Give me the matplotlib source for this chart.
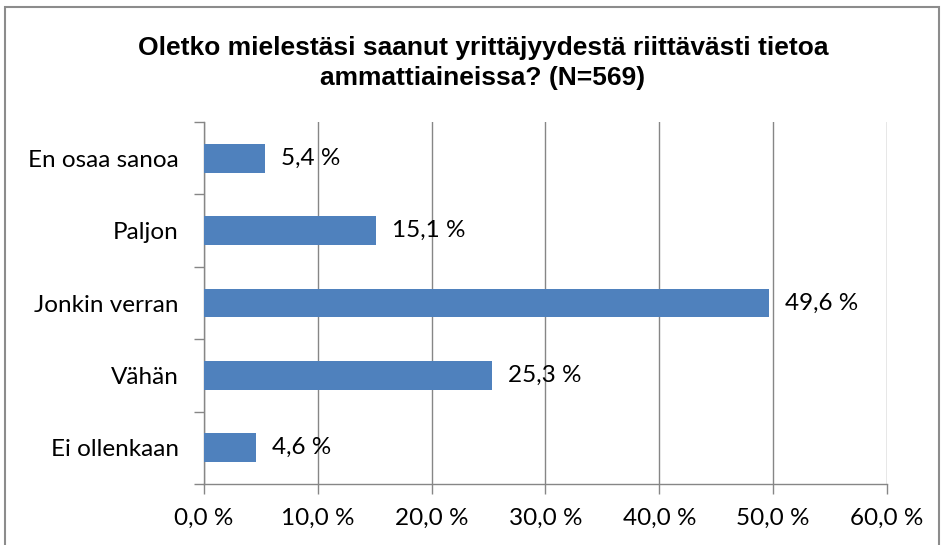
import numpy as np
import matplotlib.pyplot as plt
from matplotlib.patches import Rectangle
from matplotlib.ticker import FixedLocator

categories = ["Ei ollenkaan", "Vähän", "Jonkin verran", "Paljon", "En osaa sanoa"]
values = [4.6, 25.3, 49.6, 15.1, 5.4]
xticks = [0, 10, 20, 30, 40, 50, 60]
title = "Oletko mielestäsi saanut yrittäjyydestä riittävästi tietoa\nammattiaineissa? (N=569)"

def fmt(v):
    return ("%.1f %%" % v).replace(".", ",")

plt.rcParams['font.family'] = ['Lato', 'DejaVu Sans']
fs = 17.5

fig = plt.figure(figsize=(9.45, 5.45), dpi=100)
ax = fig.add_axes([204/945, 1 - 484/545, (887-204)/945, (484-122)/545])

grey = "#868686"
y = np.arange(len(categories))
ax.barh(y, values, height=0.4, color="#4F81BD", zorder=3)
for yi, v in zip(y, values):
    ax.annotate(fmt(v), (v, yi), xytext=(11.5, 0), textcoords="offset points",
                va="center", ha="left", fontsize=fs, zorder=4)

ax.set_xlim(0, 60)
ax.set_ylim(-0.5, len(categories) - 0.5)
ax.set_xticks(xticks)
ax.set_xticklabels([fmt(t) for t in xticks], fontsize=fs)
ax.set_yticks(y)
ax.set_yticklabels(categories, fontsize=fs)
ax.yaxis.set_minor_locator(FixedLocator(np.arange(-0.5, len(categories), 1.0)))
ax.tick_params(axis="y", which="major", length=0, pad=18)
ax.tick_params(axis="y", which="minor", length=7, color=grey, width=1)
ax.tick_params(axis="x", length=7, color=grey, width=1, pad=10)
ax.grid(axis="x", color=grey, linewidth=1, zorder=0)
for s in ["top", "right"]:
    ax.spines[s].set_visible(False)
for s in ["left", "bottom"]:
    ax.spines[s].set_color(grey)
    ax.spines[s].set_linewidth(1)

fig.text(483/945, 1 - 63/545, title, ha="center", va="center", fontsize=19,
         fontweight="bold", family="Liberation Sans", linespacing=1.35)

fig.patches.append(Rectangle((5/945, -0.01), 934/945, 1 - 7/545 + 0.01,
                             transform=fig.transFigure, fill=False,
                             edgecolor="#8C8C8C", linewidth=1.5))

fig.savefig("out.png", dpi=100)
